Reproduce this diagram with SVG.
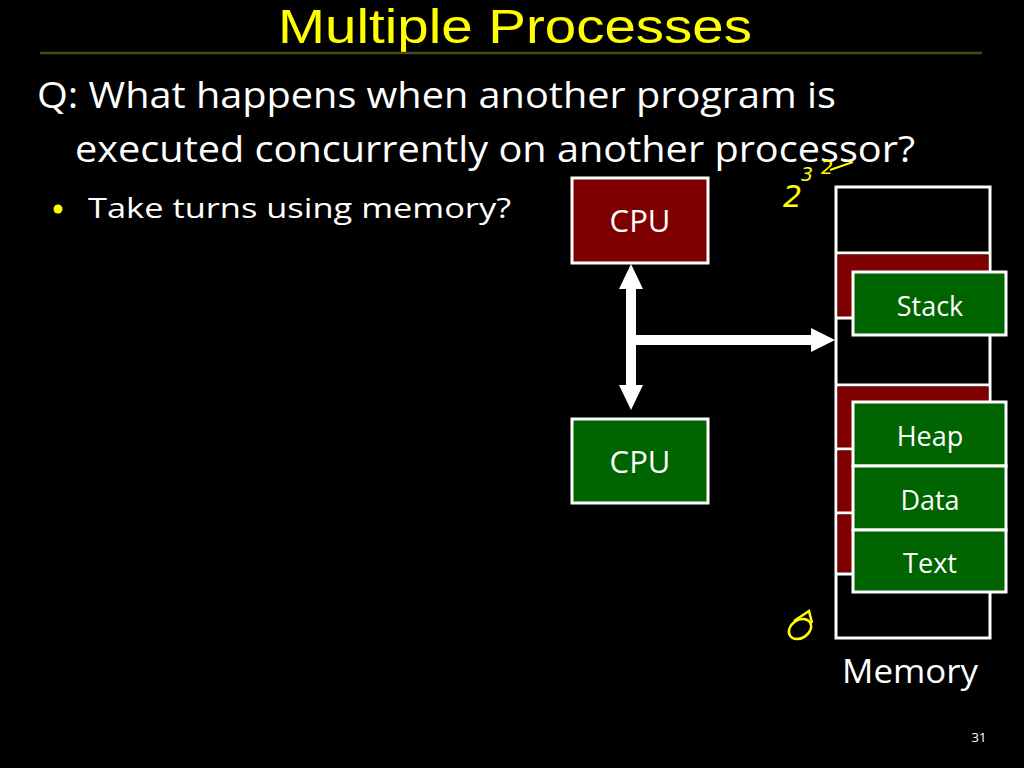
<svg xmlns="http://www.w3.org/2000/svg" width="1024" height="768" viewBox="0 0 1024 768">
<defs>
<style>
.t{font-family:"Open Sans","Noto Sans","Liberation Sans",sans-serif;fill:#ffffff}
.red{fill:#7f0000;stroke:#ffffff;stroke-width:3}
.grn{fill:#006400;stroke:#ffffff;stroke-width:3}
.lbl{font-family:"Open Sans","Noto Sans","Liberation Sans",sans-serif;fill:#ffffff;font-size:27px;text-anchor:middle}
.ink{font-family:"DejaVu Sans","Liberation Sans",sans-serif;font-style:italic;fill:#ffff00}
</style>
</defs>
<rect x="0" y="0" width="1024" height="768" fill="#000000"/>
<text x="515" y="43" font-family="Liberation Sans, Arial, sans-serif" font-size="49" fill="#ffff00" text-anchor="middle" textLength="474" lengthAdjust="spacingAndGlyphs">Multiple Processes</text>
<line x1="40" y1="53" x2="982" y2="53" stroke="#4b4b12" stroke-width="2.5"/>
<text class="t" x="37" y="108" font-size="36" textLength="799" lengthAdjust="spacingAndGlyphs">Q: What happens when another program is</text>
<text class="t" x="75" y="162" font-size="36" textLength="840" lengthAdjust="spacingAndGlyphs">executed concurrently on another processor?</text>
<circle cx="58" cy="209" r="4.5" fill="#ffff00"/>
<text class="t" x="88" y="218" font-size="28" textLength="423" lengthAdjust="spacingAndGlyphs">Take turns using memory?</text>

<g id="memory">
<rect x="836" y="187" width="154" height="451" fill="#000000" stroke="#ffffff" stroke-width="3"/>
<line x1="836" y1="253" x2="990" y2="253" stroke="#ffffff" stroke-width="3"/>
<rect x="837.5" y="254.5" width="151" height="63" fill="#7f0000"/>
<line x1="836" y1="318" x2="990" y2="318" stroke="#ffffff" stroke-width="3"/>
<line x1="836" y1="385" x2="990" y2="385" stroke="#ffffff" stroke-width="3"/>
<rect x="837.5" y="386.5" width="151" height="61" fill="#7f0000"/>
<line x1="836" y1="449" x2="990" y2="449" stroke="#ffffff" stroke-width="3"/>
<rect x="837.5" y="450.5" width="151" height="62" fill="#7f0000"/>
<line x1="836" y1="513" x2="990" y2="513" stroke="#ffffff" stroke-width="3"/>
<rect x="837.5" y="514.5" width="151" height="58" fill="#7f0000"/>
<line x1="836" y1="574" x2="990" y2="574" stroke="#ffffff" stroke-width="3"/>
<text class="t" x="910" y="683" font-size="32" text-anchor="middle" textLength="136" lengthAdjust="spacingAndGlyphs">Memory</text>
</g>

<g id="stack"><rect class="grn" x="853" y="272" width="153" height="63"/><text class="lbl" x="930" y="316">Stack</text></g>
<g id="heap"><rect class="grn" x="853" y="402" width="153" height="64"/><text class="lbl" x="930" y="446">Heap</text></g>
<g id="data"><rect class="grn" x="853" y="466" width="153" height="64"/><text class="lbl" x="930" y="510">Data</text></g>
<g id="text"><rect class="grn" x="853" y="530" width="153" height="62"/><text class="lbl" x="930" y="573">Text</text></g>

<g id="cpu1"><rect class="red" x="572" y="178" width="136" height="85"/><text class="t" x="640" y="232" font-size="31" text-anchor="middle">CPU</text></g>
<g id="cpu2"><rect class="grn" x="572" y="419" width="136" height="84"/><text class="t" x="640" y="473" font-size="31" text-anchor="middle">CPU</text></g>

<g id="connectors" fill="#ffffff">
<rect x="626" y="286" width="10" height="102"/>
<polygon points="631,264 643,289 619,289"/>
<polygon points="631,410 643,385 619,385"/>
<rect x="631" y="335" width="184" height="10"/>
<polygon points="835,340 811,328 811,352"/>
</g>

<g id="annotations">
<text class="ink" x="783" y="207" font-size="30">2</text>
<text class="ink" x="801" y="181" font-size="19">3</text>
<text class="ink" x="821" y="174" font-size="19">2</text>
<path d="M830,170 L853,162" stroke="#ffff00" stroke-width="2" fill="none"/>
<ellipse cx="800" cy="629" rx="12" ry="9" fill="none" stroke="#ffff00" stroke-width="2.5" transform="rotate(-35 800 629)"/>
<path d="M794,621 L809,611 L812,623" stroke="#ffff00" stroke-width="2.5" fill="none"/>
</g>

<text class="t" x="979" y="742" font-size="13" text-anchor="middle">31</text>
</svg>
